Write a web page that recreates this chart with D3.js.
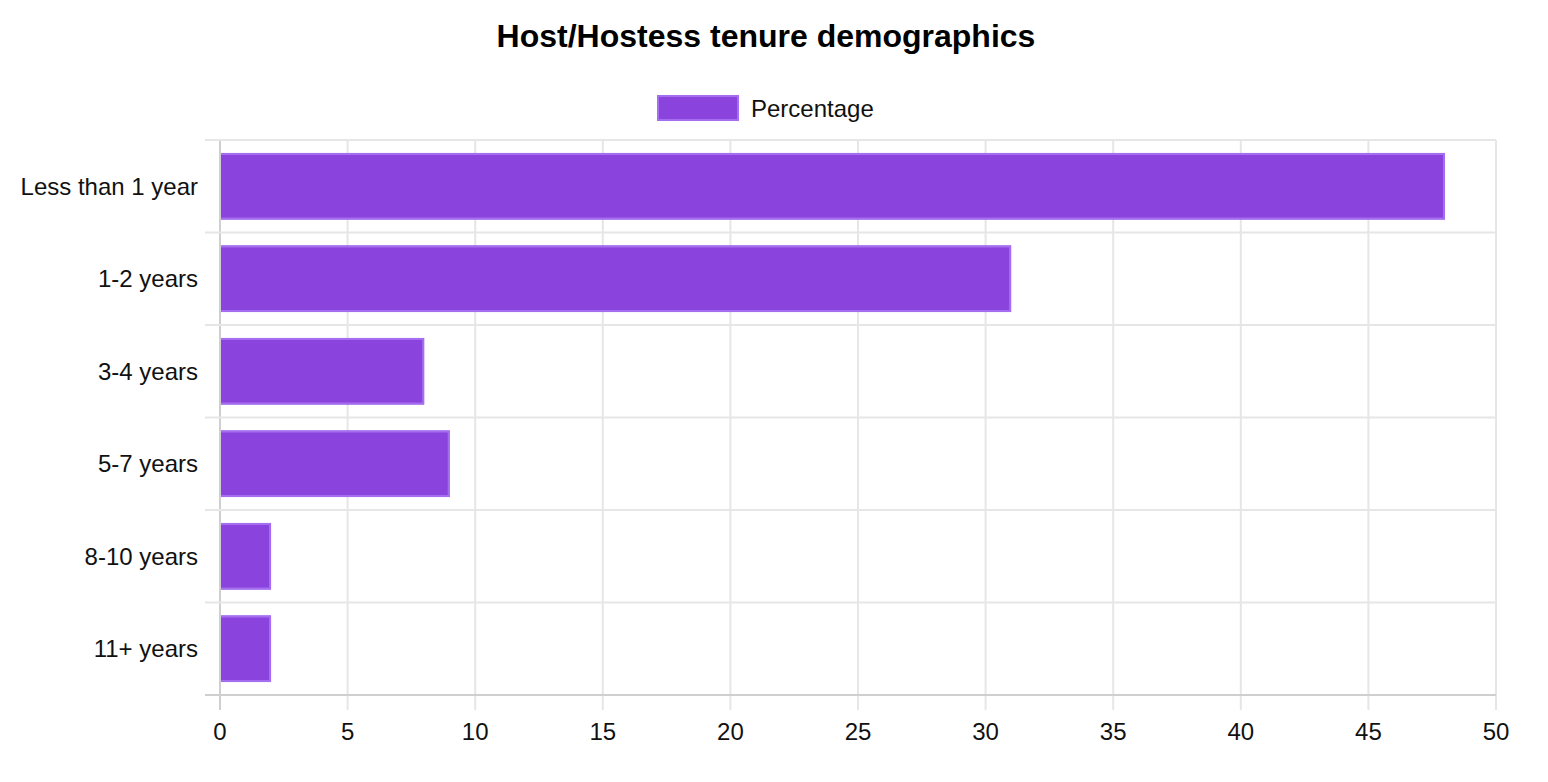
<!DOCTYPE html>
<html>
<head>
<meta charset="utf-8">
<script src="https://cdn.jsdelivr.net/npm/d3@7"></script>
<style>
  html, body { margin: 0; padding: 0; background: #fff; }
  svg { display: block; font-family: "Liberation Sans", Arial, Helvetica, sans-serif; }
</style>
</head>
<body>
<svg width="1548" height="782"></svg>
<script>
const categories = ["Less than 1 year", "1-2 years", "3-4 years", "5-7 years", "8-10 years", "11+ years"];
const percentages = [48, 31, 8, 9, 2, 2];
const xTicks = [0, 5, 10, 15, 20, 25, 30, 35, 40, 45, 50];
const chartTitle = "Host/Hostess tenure demographics";
const seriesName = "Percentage";

const data = categories.map((c, i) => ({ label: c, value: percentages[i] }));

const svg = d3.select("svg");
const plot = { left: 220, right: 1496, top: 140, bottom: 695 };
const tickLen = 15;
const fill = "#8a43dc", stroke = "#a56ef0";
const gridColor = "#e6e6e6", axisColor = "#cfcfcf";

const x = d3.scaleLinear().domain([0, 50]).range([plot.left, plot.right]);
const y = d3.scaleBand().domain(categories).range([plot.top, plot.bottom]);
const inner = 0.72; // bar thickness as share of the band

// title
svg.append("text")
  .attr("x", 766).attr("y", 36)
  .attr("text-anchor", "middle").attr("dominant-baseline", "central")
  .attr("font-size", 32).attr("font-weight", "bold").attr("fill", "#000")
  .text(chartTitle);

// legend
svg.append("rect")
  .attr("x", 658).attr("y", 96).attr("width", 80).attr("height", 24)
  .attr("fill", fill).attr("stroke", stroke).attr("stroke-width", 2);
svg.append("text")
  .attr("x", 751).attr("y", 108)
  .attr("dominant-baseline", "central").attr("font-size", 24).attr("fill", "#111")
  .text(seriesName);

// vertical grid
const grid = svg.append("g");
grid.selectAll("line.v").data(xTicks).enter().append("line")
  .attr("x1", d => x(d)).attr("x2", d => x(d))
  .attr("y1", plot.top).attr("y2", plot.bottom + tickLen)
  .attr("stroke", d => d === 0 ? axisColor : gridColor).attr("stroke-width", 2);

// horizontal grid at band edges
const edges = categories.map(c => y(c)).concat([plot.bottom]);
grid.selectAll("line.h").data(edges).enter().append("line")
  .attr("x1", plot.left - tickLen).attr("x2", plot.right)
  .attr("y1", d => d).attr("y2", d => d)
  .attr("stroke", (d, i) => i === edges.length - 1 ? axisColor : gridColor).attr("stroke-width", 2);

// bars
const pad = y.bandwidth() * (1 - inner) / 2;
const bh = y.bandwidth() * inner;
const bars = svg.append("g");
bars.selectAll("rect").data(data).enter().append("rect")
  .attr("x", x(0) + 1)
  .attr("y", d => y(d.label) + pad)
  .attr("width", d => x(d.value) - x(0) - 1)
  .attr("height", bh)
  .attr("fill", fill);
// border on top, right and bottom (left side skipped)
bars.selectAll("path").data(data).enter().append("path")
  .attr("d", d => {
    const y0 = y(d.label) + pad + 1, y1 = y(d.label) + pad + bh - 1, x1 = x(d.value) - 1;
    return `M${x(0) + 1},${y0}H${x1}V${y1}H${x(0) + 1}`;
  })
  .attr("fill", "none").attr("stroke", stroke).attr("stroke-width", 2);

// y labels
svg.append("g").selectAll("text").data(categories).enter().append("text")
  .attr("x", 198)
  .attr("y", d => y(d) + y.bandwidth() / 2)
  .attr("text-anchor", "end").attr("dominant-baseline", "central")
  .attr("font-size", 24).attr("fill", "#111")
  .text(d => d);

// x labels
svg.append("g").selectAll("text").data(xTicks).enter().append("text")
  .attr("x", d => x(d)).attr("y", 731)
  .attr("text-anchor", "middle").attr("dominant-baseline", "central")
  .attr("font-size", 24).attr("fill", "#111")
  .text(d => d);
</script>
</body>
</html>
